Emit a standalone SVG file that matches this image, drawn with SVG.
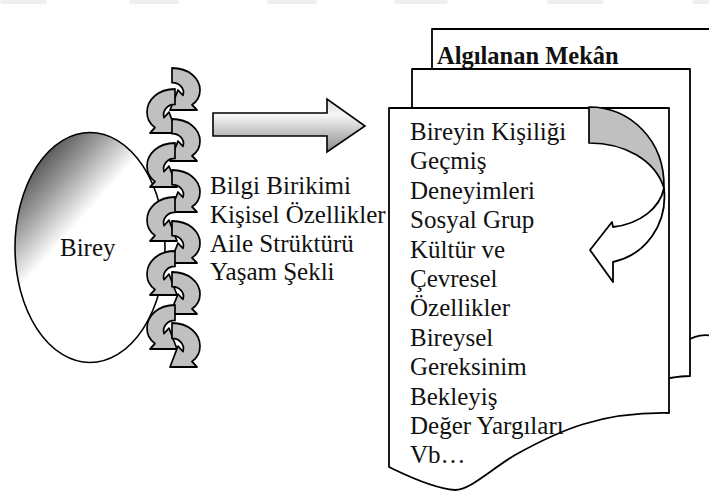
<svg xmlns="http://www.w3.org/2000/svg" xmlns:xlink="http://www.w3.org/1999/xlink" width="709" height="493" viewBox="0 0 709 493">
<style>
.t{font-family:"Liberation Serif","Times New Roman",serif;font-size:25px;fill:#111}
.b{font-weight:bold;font-size:24.5px}
.ln{stroke:#000;stroke-width:1.8;fill:#fff;stroke-linejoin:round}
.ch{fill:#c0c0c0;stroke:#000;stroke-width:1.7;stroke-linejoin:round}
.wm{fill:#efefef}
</style>
<defs>
<linearGradient id="gEll" gradientUnits="userSpaceOnUse" x1="30" y1="160" x2="88" y2="212">
<stop offset="0" stop-color="#4a4a4a"/>
<stop offset="0.5" stop-color="#a0a0a0"/>
<stop offset="1" stop-color="#ffffff"/>
</linearGradient>
<linearGradient id="gArr" x1="0" y1="0" x2="0" y2="1">
<stop offset="0" stop-color="#d8d8d8"/>
<stop offset="0.3" stop-color="#f6f6f6"/>
<stop offset="1" stop-color="#8a8a8a"/>
</linearGradient>
<path id="rU" class="ch" d="M0,0 C17,0 28,10 28,21 C28,28 25,32 20,35 L25,40 L-2,40 L6,21 L11,26 C13,20 8,14 0,14 Z"/>
</defs>

<g id="watermark">
<rect class="wm" x="0" y="0" width="47" height="4" rx="2"/>
<rect class="wm" x="129" y="0" width="50" height="4" rx="2"/>
<rect class="wm" x="267" y="0" width="50" height="4" rx="2"/>
<rect class="wm" x="394" y="0" width="54" height="4" rx="2"/>
<rect class="wm" x="547" y="0" width="57" height="4" rx="2"/>
<rect class="wm" x="692" y="0" width="20" height="4" rx="2"/>
</g>

<g id="birey">
<ellipse cx="90" cy="247.5" rx="75" ry="115" fill="url(#gEll)" stroke="#000" stroke-width="1.6"/>
<text class="t" x="60" y="256">Birey</text>
</g>

<g id="chain">
<use xlink:href="#rU" transform="translate(172,68) scale(1,1.05)"/>
<use xlink:href="#rU" transform="translate(175,89) scale(-1,1.1)"/>
<use xlink:href="#rU" transform="translate(172,119) scale(1,1.05)"/>
<use xlink:href="#rU" transform="translate(175,143) scale(-1,1.1)"/>
<use xlink:href="#rU" transform="translate(172,170) scale(1,1.05)"/>
<use xlink:href="#rU" transform="translate(175,197) scale(-1,1.1)"/>
<use xlink:href="#rU" transform="translate(172,221) scale(1,1.05)"/>
<use xlink:href="#rU" transform="translate(175,251) scale(-1,1.1)"/>
<use xlink:href="#rU" transform="translate(172,272) scale(1,1.05)"/>
<use xlink:href="#rU" transform="translate(175,305) scale(-1,1.1)"/>
<use xlink:href="#rU" transform="translate(172,323) scale(1,1.1)"/>
</g>

<g id="factors">
<text class="t" x="210" y="194">Bilgi Birikimi</text>
<text class="t" x="210" y="223">Kişisel Özellikler</text>
<text class="t" x="210" y="251.5">Aile Strüktürü</text>
<text class="t" x="210" y="280">Yaşam Şekli</text>
</g>

<g id="connectors">
<path d="M213,113 H327 V99 L365,126 L327,152 V136 H213 Z" fill="url(#gArr)" stroke="#000" stroke-width="1.6" stroke-linejoin="miter"/>
</g>

<g id="page-back">
<path class="ln" d="M432,29 H715 V336 C702,334 696,336 690,339 L600,350 L432,360 Z"/>
<text class="t b" x="437" y="64">Algılanan Mekân</text>
</g>

<g id="page-middle">
<path class="ln" d="M412,69 H690 V376 C683,376 676,377 670,378 L560,390 L412,400 Z"/>
</g>

<g id="page-front">
<path class="ln" d="M389,108 H669 V413 C600,412 560,430 515,455 C490,470 470,490 455,490 C430,488 400,472 389,467 Z"/>
<path class="ch" d="M589,107 C630,107 665,140 664,188 C655,160 625,143 589,143 Z"/>
<path class="ln" d="M664,188 C668,225 645,255 613,262 L613,282 L590,250 L612,222 L613,227 C640,224 660,208 664,188 Z"/>
<text class="t" x="410" y="140">Bireyin Kişiliği</text>
<text class="t" x="410" y="169.4">Geçmiş</text>
<text class="t" x="410" y="198.8">Deneyimleri</text>
<text class="t" x="410" y="228.2">Sosyal Grup</text>
<text class="t" x="410" y="257.6">Kültür ve</text>
<text class="t" x="410" y="287">Çevresel</text>
<text class="t" x="410" y="316.4">Özellikler</text>
<text class="t" x="410" y="345.8">Bireysel</text>
<text class="t" x="410" y="375.2">Gereksinim</text>
<text class="t" x="410" y="404.6">Bekleyiş</text>
<text class="t" x="410" y="434">Değer Yargıları</text>
<text class="t" x="410" y="463.4">Vb…</text>
</g>
</svg>
